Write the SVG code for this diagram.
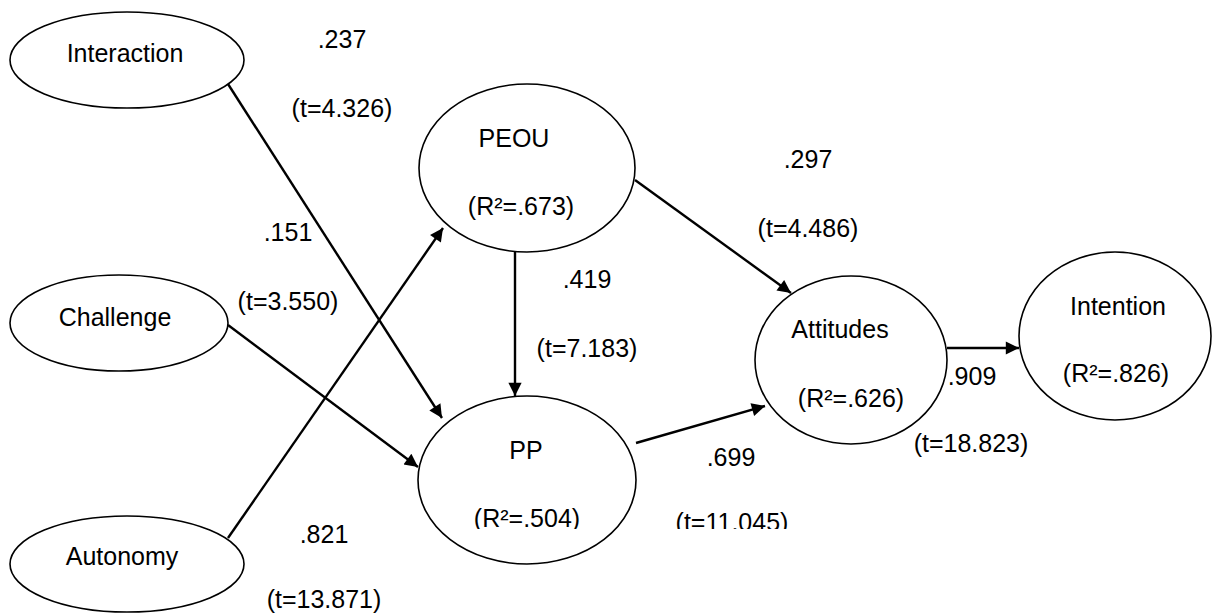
<svg xmlns="http://www.w3.org/2000/svg" width="1219" height="615" viewBox="0 0 1219 615">
<style>
.node{fill:#fff;stroke:#000;stroke-width:1.6}
.t{font-family:"Liberation Sans",Arial,sans-serif;font-size:25px;fill:#000;text-anchor:middle}
.c{stroke:#000;stroke-width:2.4;fill:none;marker-end:url(#ah)}
</style>
<defs>
<marker id="ah" viewBox="0 0 10 10" refX="10" refY="5" markerWidth="6.5" markerHeight="5.5" markerUnits="strokeWidth" orient="auto">
<path d="M0,0 L10,5 L0,10 z" fill="#000"/>
</marker>
<clipPath id="cut"><rect x="0" y="0" width="1219" height="529"/></clipPath>
</defs>
<rect width="1219" height="615" fill="#fff"/>
<g id="connectors">
<line class="c" x1="228" y1="84" x2="442" y2="418"/>
<line class="c" x1="228" y1="325" x2="418" y2="467"/>
<line class="c" x1="228" y1="538" x2="443" y2="228"/>
<line class="c" x1="515" y1="252" x2="515" y2="396"/>
<line class="c" x1="635" y1="180" x2="791" y2="293"/>
<line class="c" x1="636" y1="443" x2="765" y2="406"/>
<line class="c" x1="947" y1="348" x2="1019" y2="348"/>
</g>
<g id="labels">
<text class="t" x="342" y="48">.237</text>
<text class="t" x="342" y="117">(t=4.326)</text>
<text class="t" x="288" y="241">.151</text>
<text class="t" x="288" y="310">(t=3.550)</text>
<text class="t" x="324" y="543">.821</text>
<text class="t" x="324" y="608">(t=13.871)</text>
<text class="t" x="587" y="288">.419</text>
<text class="t" x="587" y="357">(t=7.183)</text>
<text class="t" x="808" y="168">.297</text>
<text class="t" x="808" y="237">(t=4.486)</text>
<text class="t" x="731" y="466">.699</text>
<text class="t" x="732" y="531" clip-path="url(#cut)">(t=11.045)</text>
<text class="t" x="972" y="385">.909</text>
<text class="t" x="971" y="452">(t=18.823)</text>
</g>
<g id="interaction">
<ellipse class="node" cx="127" cy="60" rx="117" ry="48"/>
<text class="t" x="125" y="62">Interaction</text>
</g>
<g id="challenge">
<ellipse class="node" cx="119" cy="323" rx="109" ry="48"/>
<text class="t" x="115" y="326">Challenge</text>
</g>
<g id="autonomy">
<ellipse class="node" cx="127" cy="564" rx="117" ry="48"/>
<text class="t" x="122" y="565">Autonomy</text>
</g>
<g id="peou">
<ellipse class="node" cx="527" cy="168" rx="108" ry="84"/>
<text class="t" x="514" y="147">PEOU</text>
<text class="t" x="521" y="215">(R²=.673)</text>
</g>
<g id="pp">
<ellipse class="node" cx="527" cy="480" rx="109" ry="84"/>
<text class="t" x="526" y="459">PP</text>
<text class="t" x="527" y="527" clip-path="url(#cut)">(R²=.504)</text>
</g>
<g id="attitudes">
<ellipse class="node" cx="851" cy="360" rx="96" ry="84"/>
<text class="t" x="840" y="338">Attitudes</text>
<text class="t" x="851" y="407">(R²=.626)</text>
</g>
<g id="intention">
<ellipse class="node" cx="1115" cy="336" rx="96" ry="84"/>
<text class="t" x="1118" y="315">Intention</text>
<text class="t" x="1116" y="382">(R²=.826)</text>
</g>
</svg>
